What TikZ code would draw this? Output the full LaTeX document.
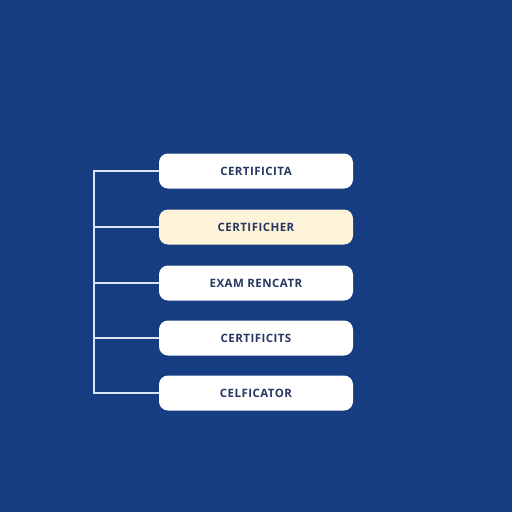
\documentclass[tikz,border=0pt]{standalone}
\usepackage{fontspec}
\setmainfont{Open Sans}
\definecolor{bg}{RGB}{22,60,130}
\definecolor{boxtext}{RGB}{38,56,98}
\definecolor{cream}{RGB}{253,243,216}
\definecolor{linec}{RGB}{215,228,245}
\begin{document}
\begin{tikzpicture}[x=1pt,y=-1pt,
  item/.style={draw=none, fill=white, rounded corners=9pt, minimum width=194pt, minimum height=35pt,
    text=boxtext, font=\fontsize{11.5}{13}\selectfont\bfseries\addfontfeature{LetterSpace=4}, inner sep=0pt},
  hl/.style={item, fill=cream},
  conn/.style={draw=linec, line width=1.3pt}]
\fill[bg] (0,0) rectangle (512,512);
\useasboundingbox (0,0) rectangle (512,512);
\node[item] (b1) at (256,171) {CERTIFICITA};
\node[hl]   (b2) at (256,227) {CERTIFICHER};
\node[item] (b3) at (256,283) {EXAM RENCATR};
\node[item] (b4) at (256,338) {CERTIFICITS};
\node[item] (b5) at (256,393) {CELFICATOR};
\coordinate (top) at (94,171);
\coordinate (bot) at (94,393);
\draw[conn] (b1.west) -- (top) -- (bot) -- (b5.west);
\draw[conn] (b2.west) -- (top |- b2.west);
\draw[conn] (b3.west) -- (top |- b3.west);
\draw[conn] (b4.west) -- (top |- b4.west);
\end{tikzpicture}
\end{document}
